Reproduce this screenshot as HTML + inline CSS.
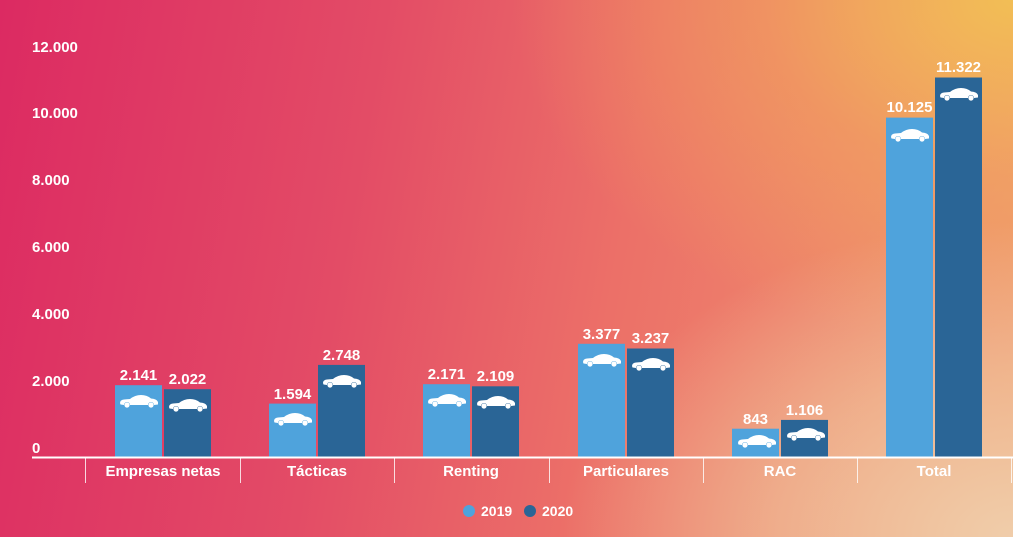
<!DOCTYPE html>
<html><head><meta charset="utf-8"><style>
html,body{margin:0;padding:0;width:1013px;height:537px;overflow:hidden}
body{background:
radial-gradient(ellipse 600px 420px at 1013px 537px, rgba(240,205,170,1) 0%, rgba(240,200,160,0.6) 40%, rgba(240,190,150,0) 75%),
radial-gradient(ellipse 500px 350px at 1013px 0px, rgba(242,190,85,1) 0%, rgba(242,170,90,0.5) 50%, rgba(242,160,100,0) 100%),
linear-gradient(100deg,#dc2a62 0%,#e34c66 35%,#ec7068 60%,#f09a70 100%);}
svg{position:absolute;left:0;top:0}
text{font-family:"Liberation Sans",sans-serif;font-weight:bold;fill:#fff}
</style></head><body>
<svg width="1013" height="537" viewBox="0 0 1013 537" xmlns="http://www.w3.org/2000/svg" xmlns:xlink="http://www.w3.org/1999/xlink">
<defs>
<g id="car">
<path d="M1 9 Q1 6 5 5.5 L11 5 Q16 1 22 1 Q28 1 32 4.5 Q38 5 39 8 L39 10.5 L35 11 A3 3 0 0 0 29 11 L11 11 A3 3 0 0 0 5 11 L1.5 10.5 Z" fill="#fff"/>
<circle cx="8" cy="11" r="2.6" fill="#fff"/><circle cx="32" cy="11" r="2.6" fill="#fff"/>
</g>
</defs>
<g font-size="15">
<text x="32" y="52">12.000</text><text x="32" y="118">10.000</text><text x="32" y="185">8.000</text>
<text x="32" y="252">6.000</text><text x="32" y="319">4.000</text><text x="32" y="386">2.000</text><text x="32" y="453">0</text>
</g>
<g>
<rect x="115" y="385.2" width="47" height="71.8" fill="#4fa3dc"/>
<rect x="164" y="389.2" width="47" height="67.8" fill="#2a6596"/>
<rect x="269" y="403.6" width="47" height="53.4" fill="#4fa3dc"/>
<rect x="318" y="364.9" width="47" height="92.1" fill="#2a6596"/>
<rect x="423" y="384.2" width="47" height="72.8" fill="#4fa3dc"/>
<rect x="472" y="386.3" width="47" height="70.7" fill="#2a6596"/>
<rect x="578" y="343.8" width="47" height="113.2" fill="#4fa3dc"/>
<rect x="627" y="348.5" width="47" height="108.5" fill="#2a6596"/>
<rect x="732" y="428.7" width="47" height="28.3" fill="#4fa3dc"/>
<rect x="781" y="419.9" width="47" height="37.1" fill="#2a6596"/>
<rect x="886" y="117.6" width="47" height="339.4" fill="#4fa3dc"/>
<rect x="935" y="77.5" width="47" height="379.5" fill="#2a6596"/>
</g>
<g>
<use xlink:href="#car" href="#car" x="119" y="394"/>
<use xlink:href="#car" href="#car" x="168" y="398"/>
<use xlink:href="#car" href="#car" x="273" y="412"/>
<use xlink:href="#car" href="#car" x="322" y="374"/>
<use xlink:href="#car" href="#car" x="427" y="393"/>
<use xlink:href="#car" href="#car" x="476" y="395"/>
<use xlink:href="#car" href="#car" x="582" y="353"/>
<use xlink:href="#car" href="#car" x="631" y="357"/>
<use xlink:href="#car" href="#car" x="737" y="434"/>
<use xlink:href="#car" href="#car" x="786" y="427"/>
<use xlink:href="#car" href="#car" x="890" y="128"/>
<use xlink:href="#car" href="#car" x="939" y="87"/>
</g>
<g font-size="15" text-anchor="middle">
<text x="138.5" y="380">2.141</text><text x="187.5" y="384">2.022</text>
<text x="292.5" y="399">1.594</text><text x="341.5" y="360">2.748</text>
<text x="446.5" y="379">2.171</text><text x="495.5" y="381">2.109</text>
<text x="601.5" y="339">3.377</text><text x="650.5" y="343">3.237</text>
<text x="755.5" y="424">843</text><text x="804.5" y="415">1.106</text>
<text x="909.5" y="112">10.125</text><text x="958.5" y="72">11.322</text>
</g>
<line x1="32" y1="457.5" x2="1013" y2="457.5" stroke="#fff" stroke-width="2"/>
<g stroke="#fff" stroke-width="1" opacity="0.8">
<line x1="85.5" y1="457" x2="85.5" y2="483"/><line x1="240.5" y1="457" x2="240.5" y2="483"/>
<line x1="394.5" y1="457" x2="394.5" y2="483"/><line x1="549.5" y1="457" x2="549.5" y2="483"/>
<line x1="703.5" y1="457" x2="703.5" y2="483"/><line x1="857.5" y1="457" x2="857.5" y2="483"/>
<line x1="1011.5" y1="457" x2="1011.5" y2="483"/>
</g>
<g font-size="15" text-anchor="middle">
<text x="163" y="476">Empresas netas</text><text x="317" y="476">Tácticas</text><text x="471" y="476">Renting</text>
<text x="626" y="476">Particulares</text><text x="780" y="476">RAC</text><text x="934" y="476">Total</text>
</g>
<circle cx="469" cy="511" r="6" fill="#4fa3dc"/><text x="481" y="516" font-size="14">2019</text>
<circle cx="530" cy="511" r="6" fill="#2a6596"/><text x="542" y="516" font-size="14">2020</text>
</svg>
</body></html>
